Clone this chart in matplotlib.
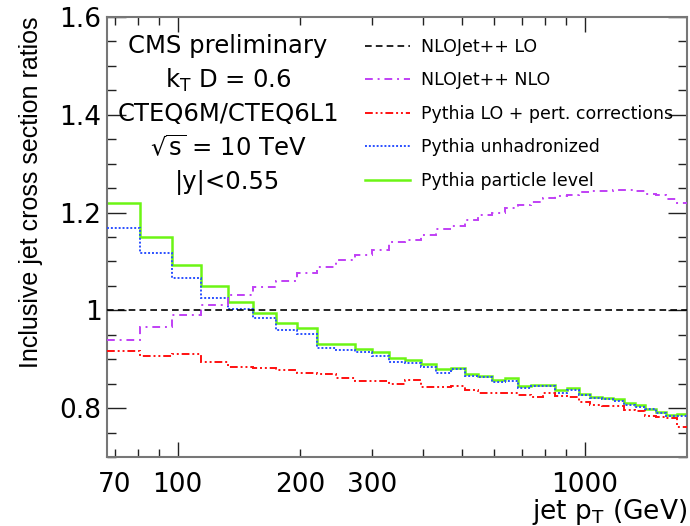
import matplotlib
matplotlib.use('Agg')
import matplotlib.pyplot as plt
from matplotlib.ticker import FixedLocator, MultipleLocator, FuncFormatter

# bin edges in jet pT (GeV)
pt_edges = [67, 81, 97, 114, 133, 153, 174, 196, 220, 245, 272, 300, 330, 362,
            395, 430, 468, 507, 548, 592, 638, 686, 737, 790, 846, 905, 967,
            1032, 1101, 1172, 1248, 1327, 1410, 1497, 1588, 1684, 1784]

# ratios to NLOJet++ LO
nlo_lo = [1.0] * (len(pt_edges) - 1)
nlo_nlo = [0.939, 0.965, 0.990, 1.011, 1.031, 1.047, 1.061, 1.077, 1.088, 1.102,
           1.113, 1.124, 1.139, 1.143, 1.155, 1.167, 1.173, 1.184, 1.195, 1.199,
           1.210, 1.216, 1.222, 1.229, 1.234, 1.236, 1.241, 1.244, 1.243, 1.247,
           1.245, 1.243, 1.237, 1.235, 1.227, 1.219]
pythia_lo_pert = [0.916, 0.907, 0.910, 0.894, 0.884, 0.882, 0.878, 0.872, 0.870,
                  0.861, 0.856, 0.856, 0.850, 0.857, 0.844, 0.844, 0.845, 0.838,
                  0.832, 0.832, 0.832, 0.827, 0.822, 0.831, 0.824, 0.822, 0.813,
                  0.807, 0.805, 0.804, 0.796, 0.794, 0.784, 0.782, 0.779, 0.762]
pythia_unhad = [1.168, 1.118, 1.066, 1.026, 1.002, 0.984, 0.959, 0.952, 0.923,
                0.919, 0.914, 0.907, 0.895, 0.893, 0.884, 0.872, 0.880, 0.865,
                0.863, 0.854, 0.856, 0.841, 0.846, 0.846, 0.831, 0.838, 0.826,
                0.820, 0.818, 0.815, 0.807, 0.803, 0.798, 0.791, 0.784, 0.784]
pythia_particle = [1.220, 1.149, 1.093, 1.050, 1.017, 0.995, 0.974, 0.964, 0.931,
                   0.931, 0.920, 0.915, 0.903, 0.899, 0.890, 0.880, 0.882, 0.870,
                   0.866, 0.857, 0.861, 0.845, 0.848, 0.848, 0.837, 0.841, 0.828,
                   0.823, 0.820, 0.818, 0.810, 0.807, 0.799, 0.793, 0.786, 0.788]

info_lines = ['CMS preliminary', r'k$_{\mathregular{T}}$ D = 0.6', 'CTEQ6M/CTEQ6L1',
              r'$\mathregular{\sqrt{s}}$ = 10 TeV', '|y|<0.55']

x_major = [100, 1000]
x_minor = [70, 80, 90, 200, 300, 400, 500, 600, 700, 800, 900]
x_minor_labelled = [70, 200, 300]

fig = plt.figure(figsize=(6.9, 5.26), dpi=100)
ax = fig.add_axes([0.155, 0.131, 0.8407, 0.837])

ax.stairs(pythia_particle, pt_edges, baseline=None, color='#6cf514', lw=1.8,
          label='Pythia particle level', zorder=2)
ax.stairs(pythia_unhad, pt_edges, baseline=None, color='#2a50ff', lw=1.4,
          ls=(0, (1, 1)), label='Pythia unhadronized', zorder=3)
ax.stairs(pythia_lo_pert, pt_edges, baseline=None, color='#ff1010', lw=1.4,
          ls=(0, (4, 1.5, 1, 1.5, 1, 1.5)), label='Pythia LO + pert. corrections', zorder=3)
ax.stairs(nlo_nlo, pt_edges, baseline=None, color='#c040f5', lw=1.4,
          ls=(0, (4, 2.5, 1, 2.5)), label='NLOJet++ NLO', zorder=3)
ax.stairs(nlo_lo, pt_edges, baseline=None, color='black', lw=1.2,
          ls=(0, (4, 2.5)), label='NLOJet++ LO', zorder=4)

ax.set_xscale('log')
ax.set_xlim(pt_edges[0], pt_edges[-1])
ax.set_ylim(0.7, 1.6)

ax.xaxis.set_major_locator(FixedLocator(x_major))
ax.xaxis.set_minor_locator(FixedLocator(x_minor))
ax.xaxis.set_major_formatter(FuncFormatter(lambda v, p: '%d' % v))
ax.xaxis.set_minor_formatter(FuncFormatter(
    lambda v, p: '%d' % v if round(v) in x_minor_labelled else ''))
ax.yaxis.set_major_locator(MultipleLocator(0.2))
ax.yaxis.set_minor_locator(MultipleLocator(0.05))
ax.yaxis.set_major_formatter(FuncFormatter(lambda v, p: '%g' % round(v, 2)))

ax.tick_params(axis='both', which='both', direction='in', top=True, right=True,
               labelsize=19, width=1.0, color='#222222')
ax.tick_params(axis='x', which='major', length=11, pad=11)
ax.tick_params(axis='x', which='minor', length=5.5, pad=11)
ax.tick_params(axis='y', which='major', length=14, pad=4)
ax.tick_params(axis='y', which='minor', length=6.5)
for s in ['top', 'left', 'bottom', 'right']:
    ax.spines[s].set_color('#777777')
    ax.spines[s].set_linewidth(1.5)

ax.set_xlabel(r'jet p$_{\mathregular{T}}$ (GeV)', fontsize=19, loc='right', labelpad=-1)
ax.set_ylabel('Inclusive jet cross section ratios', fontsize=18, loc='top', labelpad=12,
              family='Liberation Sans')

for i, line in enumerate(info_lines):
    ax.text(0.2086, 0.934 - i * 0.0775, line, transform=ax.transAxes,
            ha='center', va='center', fontsize=17.5)

handles, labels = ax.get_legend_handles_labels()
ax.legend(handles[::-1], labels[::-1], loc='upper left', bbox_to_anchor=(0.445, 0.952),
          frameon=False, fontsize=12.5, handlelength=2.6, handletextpad=0.6,
          labelspacing=0.89, borderpad=0, borderaxespad=0)

fig.savefig('out.png', dpi=100)
